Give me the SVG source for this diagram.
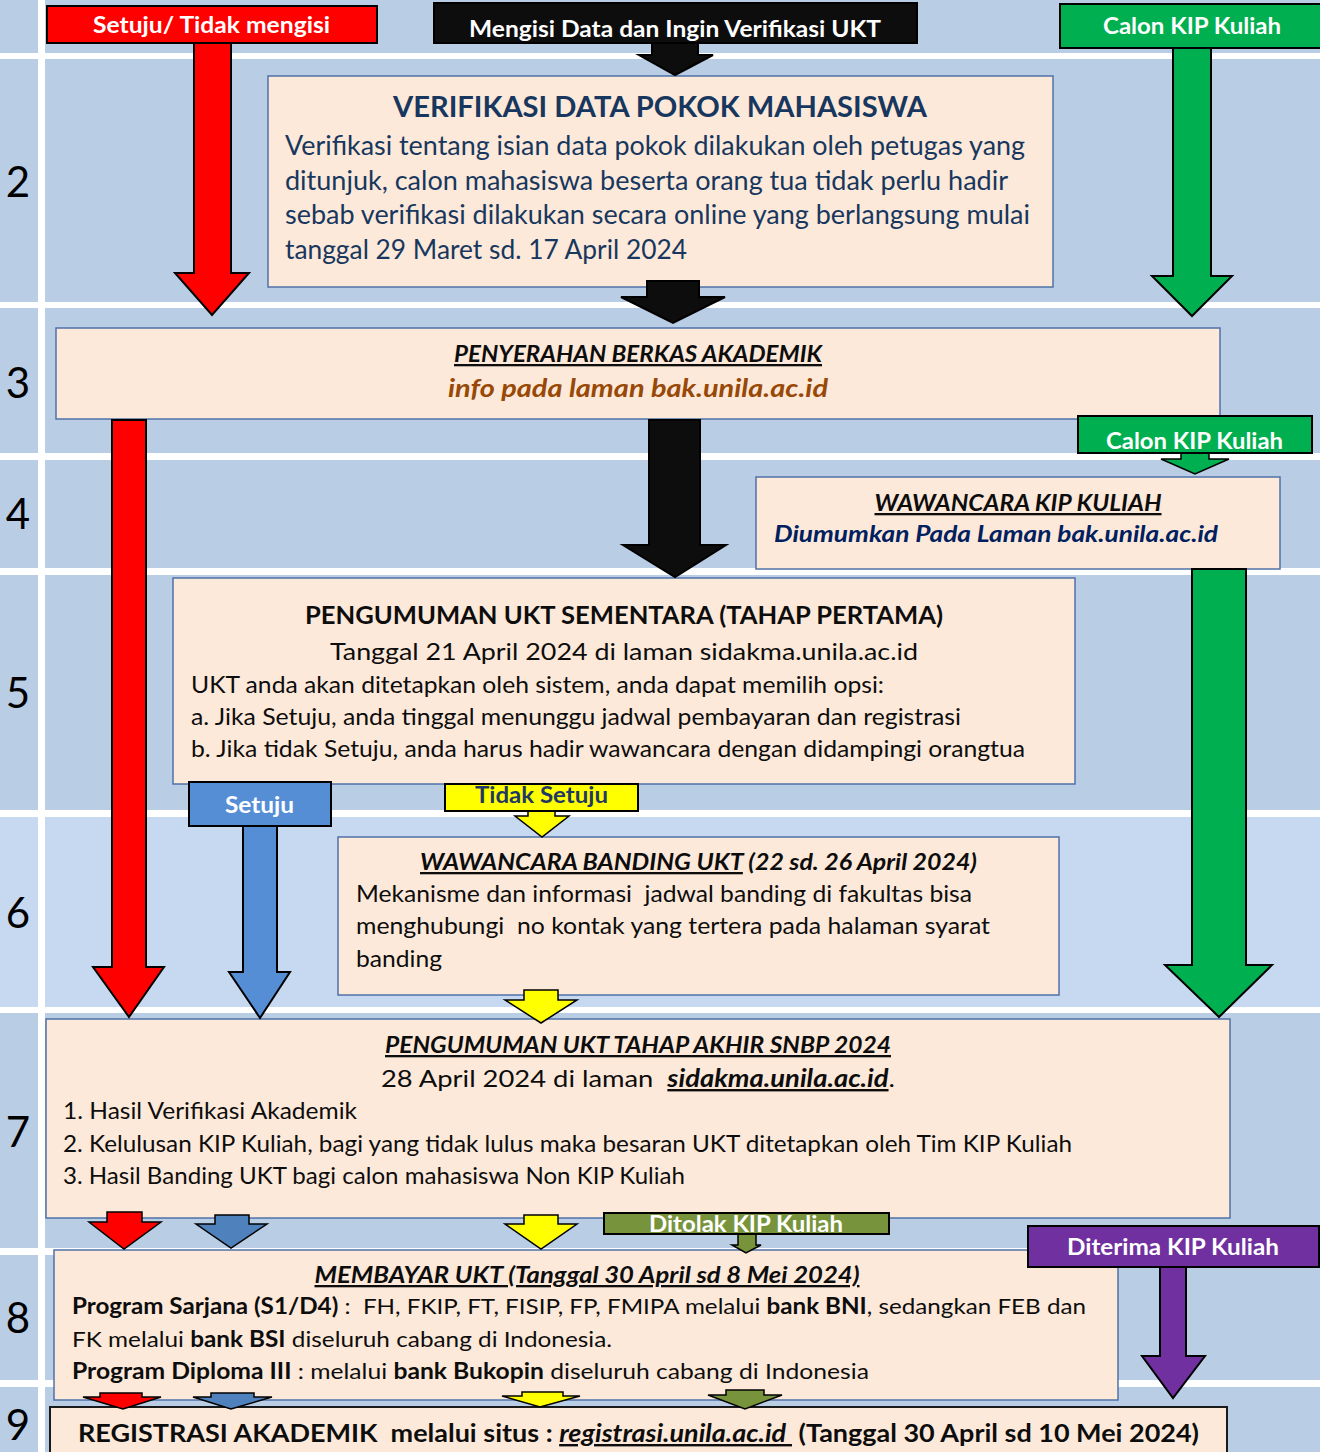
<svg xmlns="http://www.w3.org/2000/svg" width="1320" height="1452" viewBox="0 0 1320 1452">
<style>
text{font-family:Lato,"Open Sans","Liberation Sans",sans-serif;white-space:pre;}
.num{font-size:42px;fill:#000;text-anchor:middle;}
.lbl{font-size:22px;font-weight:bold;fill:#fff;}
.box{fill:#FDE9D9;stroke:#4F72A8;stroke-width:1.5;}
.arr{stroke:#000;stroke-width:2;stroke-linejoin:miter;}
.arrs{stroke:#000;stroke-width:1.5;stroke-linejoin:miter;}
.navy{fill:#17375E;}
.blk{fill:#0D0D0D;}
.bi{font-weight:bold;font-style:italic;}
.b{font-weight:bold;}
.u{text-decoration:underline;}
</style>
<g id="background">
<rect x="0" y="0" width="1320" height="1452" fill="#B9CDE5"/>
<rect x="0" y="817" width="1320" height="190" fill="#C6D9F1"/>
<g fill="#FFFFFF">
<rect x="0" y="53" width="1320" height="6"/>
<rect x="0" y="302" width="1320" height="6"/>
<rect x="0" y="453" width="1320" height="7"/>
<rect x="0" y="568" width="1320" height="7"/>
<rect x="0" y="810" width="1320" height="7"/>
<rect x="0" y="1007" width="1320" height="6"/>
<rect x="0" y="1248" width="1320" height="7"/>
<rect x="0" y="1380" width="1320" height="7"/>
<rect x="38" y="0" width="7" height="1452"/>
</g>
<g class="num">
<text x="18" y="197" class="num">2</text>
<text x="18" y="398" class="num">3</text>
<text x="18" y="529" class="num">4</text>
<text x="18" y="708" class="num">5</text>
<text x="18" y="928" class="num">6</text>
<text x="18" y="1147" class="num">7</text>
<text x="18" y="1333" class="num">8</text>
<text x="18" y="1440" class="num">9</text>
</g>
</g>

<g id="verifikasi">
<rect class="box" x="268" y="76" width="785" height="211"/>
<text x="660" y="117" text-anchor="middle" class="b navy" font-size="28" textLength="534" lengthAdjust="spacingAndGlyphs">VERIFIKASI DATA POKOK MAHASISWA</text>
<g class="navy" font-size="26">
<text x="285" y="155" textLength="740" lengthAdjust="spacingAndGlyphs">Verifikasi tentang isian data pokok dilakukan oleh petugas yang</text>
<text x="285" y="190" textLength="723" lengthAdjust="spacingAndGlyphs">ditunjuk, calon mahasiswa beserta orang tua tidak perlu hadir</text>
<text x="285" y="224" textLength="745" lengthAdjust="spacingAndGlyphs">sebab verifikasi dilakukan secara online yang berlangsung mulai</text>
<text x="285" y="259" textLength="402" lengthAdjust="spacingAndGlyphs">tanggal 29 Maret sd. 17 April 2024</text>
</g>
</g>

<g id="penyerahan">
<rect class="box" x="56" y="328" width="1164" height="91"/>
<text x="638" y="362" text-anchor="middle" class="bi u blk" font-size="23" textLength="368" lengthAdjust="spacingAndGlyphs">PENYERAHAN BERKAS AKADEMIK</text>
<text x="638" y="397" text-anchor="middle" class="bi" fill="#984807" font-size="25" textLength="380" lengthAdjust="spacingAndGlyphs">info pada laman bak.unila.ac.id</text>
</g>

<g id="wawancara-kip">
<rect class="box" x="756" y="477" width="524" height="92"/>
<text x="1018" y="511" text-anchor="middle" class="bi u blk" font-size="23" textLength="287" lengthAdjust="spacingAndGlyphs">WAWANCARA KIP KULIAH</text>
<text x="774" y="542" class="bi" fill="#002060" font-size="23" textLength="444" lengthAdjust="spacingAndGlyphs">Diumumkan Pada Laman bak.unila.ac.id</text>
</g>

<g id="pengumuman-sementara">
<rect class="box" x="173" y="578" width="902" height="206"/>
<text x="624" y="624" text-anchor="middle" class="b blk" font-size="24" textLength="638" lengthAdjust="spacingAndGlyphs">PENGUMUMAN UKT SEMENTARA (TAHAP PERTAMA)</text>
<g class="blk" font-size="23">
<text x="330" y="660" font-size="24" textLength="588" lengthAdjust="spacingAndGlyphs">Tanggal 21 April 2024 di laman sidakma.unila.ac.id</text>
<text x="191" y="693" textLength="693" lengthAdjust="spacingAndGlyphs">UKT anda akan ditetapkan oleh sistem, anda dapat memilih opsi:</text>
<text x="191" y="725" textLength="770" lengthAdjust="spacingAndGlyphs">a. Jika Setuju, anda tinggal menunggu jadwal pembayaran dan registrasi</text>
<text x="191" y="757" textLength="834" lengthAdjust="spacingAndGlyphs">b. Jika tidak Setuju, anda harus hadir wawancara dengan didampingi orangtua</text>
</g>
</g>

<g id="wawancara-banding">
<rect class="box" x="338" y="837" width="721" height="158"/>
<text x="420" y="870" class="bi blk" font-size="23" textLength="557" lengthAdjust="spacingAndGlyphs"><tspan class="u">WAWANCARA BANDING UKT</tspan> (22 sd. 26 April 2024)</text>
<g class="blk" font-size="23">
<text x="356" y="902" textLength="616" lengthAdjust="spacingAndGlyphs">Mekanisme dan informasi  jadwal banding di fakultas bisa</text>
<text x="356" y="934" textLength="634" lengthAdjust="spacingAndGlyphs">menghubungi  no kontak yang tertera pada halaman syarat</text>
<text x="356" y="967" textLength="86" lengthAdjust="spacingAndGlyphs">banding</text>
</g>
</g>

<g id="pengumuman-akhir">
<rect class="box" x="46" y="1019" width="1184" height="199"/>
<text x="638" y="1053" text-anchor="middle" class="bi u blk" font-size="23" textLength="506" lengthAdjust="spacingAndGlyphs">PENGUMUMAN UKT TAHAP AKHIR SNBP 2024</text>
<text x="381" y="1087" class="blk" font-size="24" textLength="514" lengthAdjust="spacingAndGlyphs">28 April 2024 di laman  <tspan class="bi u">sidakma.unila.ac.id</tspan>.</text>
<g class="blk" font-size="23">
<text x="63" y="1119" textLength="294" lengthAdjust="spacingAndGlyphs">1. Hasil Verifikasi Akademik</text>
<text x="63" y="1152" textLength="1009" lengthAdjust="spacingAndGlyphs">2. Kelulusan KIP Kuliah, bagi yang tidak lulus maka besaran UKT ditetapkan oleh Tim KIP Kuliah</text>
<text x="63" y="1184" textLength="622" lengthAdjust="spacingAndGlyphs">3. Hasil Banding UKT bagi calon mahasiswa Non KIP Kuliah</text>
</g>
</g>

<g id="membayar">
<rect class="box" x="54" y="1250" width="1064" height="150"/>
<text x="587" y="1283" text-anchor="middle" class="bi u blk" font-size="23" textLength="545" lengthAdjust="spacingAndGlyphs">MEMBAYAR UKT (Tanggal 30 April sd 8 Mei 2024)</text>
<g class="blk" font-size="22">
<text x="72" y="1314" textLength="1014" lengthAdjust="spacingAndGlyphs"><tspan class="b">Program Sarjana (S1/D4)</tspan> :  FH, FKIP, FT, FISIP, FP, FMIPA melalui <tspan class="b">bank BNI</tspan>, sedangkan FEB dan</text>
<text x="72" y="1347" textLength="540" lengthAdjust="spacingAndGlyphs">FK melalui <tspan class="b">bank BSI</tspan> diseluruh cabang di Indonesia.</text>
<text x="72" y="1379" textLength="797" lengthAdjust="spacingAndGlyphs"><tspan class="b">Program Diploma III</tspan> : melalui <tspan class="b">bank Bukopin</tspan> diseluruh cabang di Indonesia</text>
</g>
</g>

<g id="registrasi">
<rect x="50" y="1407" width="1177" height="60" fill="#FDE9D9" stroke="#1A1A1A" stroke-width="2"/>
<text x="78" y="1442" class="b blk" font-size="24" textLength="1121" lengthAdjust="spacingAndGlyphs">REGISTRASI AKADEMIK  melalui situs : <tspan class="bi u">registrasi.unila.ac.id </tspan> (Tanggal 30 April sd 10 Mei 2024)</text>
</g>

<g id="connectors">
<polygon class="arr" fill="#FF0000" points="194,43 231,43 231,273 249,273 212,315 175,273 194,273"/>
<polygon class="arr" fill="#0D0D0D" points="652,43 698,43 698,55 713,55 675,75 639,55 652,55"/>
<polygon class="arr" fill="#0D0D0D" points="647,281 699,281 699,297 725,297 673,323 621,297 647,297"/>
<polygon class="arr" fill="#00B050" points="1173,48 1211,48 1211,276 1232,276 1192,316 1152,276 1173,276"/>
<polygon class="arr" fill="#FF0000" points="112,420 146,420 146,967 164,967 129,1017 93,967 112,967"/>
<polygon class="arr" fill="#0D0D0D" points="649,420 700,420 700,545 726,545 675,577 623,545 649,545"/>
<polygon class="arrs" fill="#00B050" points="1181,453 1209,453 1209,459 1229,459 1195,474 1161,459 1181,459"/>
<polygon class="arr" fill="#00B050" points="1192,569 1246,569 1246,965 1272,965 1219,1017 1165,965 1192,965"/>
<polygon class="arr" fill="#558ED5" points="243,826 277,826 277,972 290,972 260,1018 229,972 243,972"/>
<polygon class="arrs" fill="#FFFF00" points="528,811 555,811 555,816 569,816 542,837 515,816 528,816"/>
<polygon class="arrs" fill="#FFFF00" points="524,990 558,990 558,1000 577,1000 541,1023 505,1000 524,1000"/>
<polygon class="arrs" fill="#FF0000" points="107,1212 142,1212 142,1222 161,1222 124,1249 89,1222 107,1222"/>
<polygon class="arrs" fill="#4F81BD" points="215,1215 249,1215 249,1224 267,1224 231,1248 196,1224 215,1224"/>
<polygon class="arrs" fill="#FFFF00" points="524,1215 558,1215 558,1224 577,1224 541,1249 505,1224 524,1224"/>
<polygon class="arrs" fill="#77933C" points="738,1234 756,1234 756,1245 761,1245 746,1253 732,1245 738,1245"/>
<polygon class="arr" fill="#7030A0" points="1160,1267 1186,1267 1186,1356 1205,1356 1173,1398 1142,1356 1160,1356"/>
<polygon class="arrs" fill="#FF0000" points="100,1393 142,1393 142,1397 161,1397 123,1409 83,1397 100,1397"/>
<polygon class="arrs" fill="#4F81BD" points="211,1393 254,1393 254,1397 272,1397 231,1409 193,1397 211,1397"/>
<polygon class="arrs" fill="#FFFF00" points="522,1392 563,1392 563,1396 580,1396 540,1407 502,1396 522,1396"/>
<polygon class="arrs" fill="#77933C" points="726,1390 764,1390 764,1395 782,1395 745,1409 708,1395 726,1395"/>
</g>

<g id="label-setuju-tidak-mengisi">
<rect x="47" y="6" width="330" height="37" fill="#FF0000" stroke="#000" stroke-width="2"/>
<text x="93" y="33" class="lbl" textLength="237" lengthAdjust="spacingAndGlyphs">Setuju/ Tidak mengisi</text>
</g>
<g id="label-mengisi-data">
<rect x="434" y="3" width="483" height="40" fill="#0D0D0D" stroke="#000" stroke-width="2"/>
<text x="469" y="37" class="lbl" textLength="412" lengthAdjust="spacingAndGlyphs">Mengisi Data dan Ingin Verifikasi UKT</text>
</g>
<g id="label-calon-kip-1">
<rect x="1060" y="4" width="270" height="44" fill="#00B050" stroke="#000" stroke-width="2"/>
<text x="1103" y="34" class="lbl" textLength="178" lengthAdjust="spacingAndGlyphs">Calon KIP Kuliah</text>
</g>
<g id="label-calon-kip-2">
<rect x="1078" y="416" width="234" height="37" fill="#00B050" stroke="#000" stroke-width="2"/>
<text x="1106" y="449" class="lbl" textLength="177" lengthAdjust="spacingAndGlyphs">Calon KIP Kuliah</text>
</g>
<g id="label-setuju">
<rect x="189" y="782" width="142" height="44" fill="#558ED5" stroke="#000" stroke-width="2"/>
<text x="225" y="813" class="lbl" textLength="69" lengthAdjust="spacingAndGlyphs">Setuju</text>
</g>
<g id="label-tidak-setuju">
<rect x="445" y="784" width="193" height="27" fill="#FFFF00" stroke="#000" stroke-width="2"/>
<text x="475" y="803" class="lbl" style="fill:#1F3864" textLength="133" lengthAdjust="spacingAndGlyphs">Tidak Setuju</text>
</g>
<g id="label-ditolak">
<rect x="604" y="1213" width="285" height="21" fill="#77933C" stroke="#000" stroke-width="2"/>
<text x="649" y="1232" class="lbl" textLength="194" lengthAdjust="spacingAndGlyphs">Ditolak KIP Kuliah</text>
</g>
<g id="label-diterima">
<rect x="1028" y="1226" width="291" height="41" fill="#7030A0" stroke="#000" stroke-width="2"/>
<text x="1067" y="1255" class="lbl" textLength="212" lengthAdjust="spacingAndGlyphs">Diterima KIP Kuliah</text>
</g>
</svg>
